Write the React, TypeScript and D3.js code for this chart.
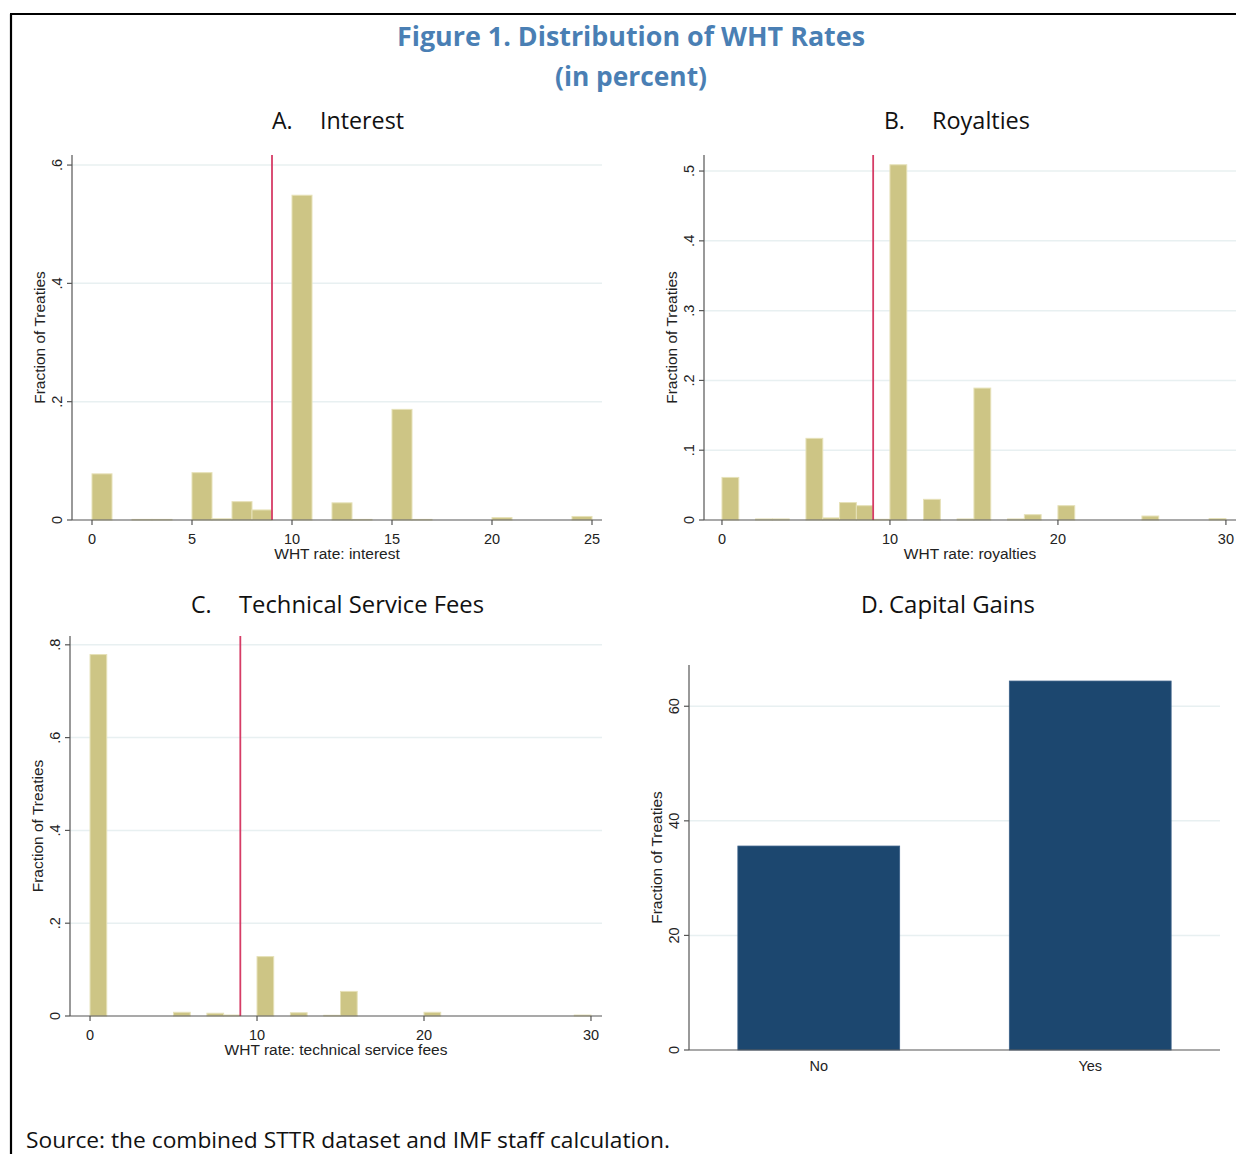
import React from "react";
import * as d3 from "d3";

// histogram bins (left edge of each 1-point bin) and fraction of treaties
const interestBins = [0, 2, 3, 5, 6, 7, 8, 10, 12, 13, 15, 16, 20, 24];
const interestFrac = [0.078, 0.001, 0.001, 0.08, 0.002, 0.031, 0.017, 0.549, 0.029, 0.001, 0.187, 0.001, 0.004, 0.006];

const royaltyBins = [0, 2, 3, 5, 6, 7, 8, 9, 10, 12, 14, 15, 17, 18, 20, 25, 29];
const royaltyFrac = [0.061, 0.0015, 0.0015, 0.117, 0.003, 0.025, 0.0205, 0.001, 0.509, 0.0296, 0.0015, 0.189, 0.0015, 0.0076, 0.0205, 0.0057, 0.002];

const techBins = [0, 5, 7, 8, 10, 12, 14, 15, 20, 29];
const techFrac = [0.779, 0.008, 0.006, 0.002, 0.128, 0.007, 0.0015, 0.053, 0.008, 0.002];

const gainsCategories = ["No", "Yes"];
const gainsValues = [35.6, 64.4];

const interestXTicks = [0, 5, 10, 15, 20, 25];
const wideXTicks = [0, 10, 20, 30];
const interestYTicks = [0, 0.2, 0.4, 0.6];
const royaltyYTicks = [0, 0.1, 0.2, 0.3, 0.4, 0.5];
const techYTicks = [0, 0.2, 0.4, 0.6, 0.8];
const gainsYTicks = [0, 20, 40, 60];

const threshold = 9;

const axisFont = "'Liberation Sans', Arial, sans-serif";
const uiFont = "'Open Sans', 'Noto Sans', sans-serif";
const gridColor = "#e8f0f1";
const axisColor = "#555";
const barFill = "#cdc585";
const barEdge = "#e6e1b8";

const fmt = (v: number) => (v === 0 ? "0" : String(v).replace(/^0/, ""));

function YAxis({ y, ticks, x0, x1, title, format }: any) {
  const [r0, r1] = y.range();
  return (
    <g>
      {ticks.filter((t: number) => t !== 0).map((t: number) => (
        <line key={"g" + t} x1={x0} x2={x1} y1={y(t)} y2={y(t)} stroke={gridColor} strokeWidth={1.5} />
      ))}
      <line x1={x0} x2={x0} y1={r1} y2={r0} stroke={axisColor} strokeWidth={1.2} />
      {ticks.map((t: number) => (
        <g key={t}>
          <line x1={x0 - 5} x2={x0} y1={y(t)} y2={y(t)} stroke={axisColor} strokeWidth={1.2} />
          <text transform={`translate(${x0 - 10},${y(t)}) rotate(-90)`} textAnchor="middle"
            fontFamily={axisFont} fontSize={14.5} fill="#222">{format(t)}</text>
        </g>
      ))}
      <text transform={`translate(${x0 - 27},${(r0 + r1) / 2}) rotate(-90)`} textAnchor="middle"
        fontFamily={axisFont} fontSize={15.5} fill="#222">{title}</text>
    </g>
  );
}

function Histogram({ bins, frac, xDomain, xRange, yMax, yRange, xTicks, yTicks, xTitle }: any) {
  const x = d3.scaleLinear().domain(xDomain).range(xRange);
  const y = d3.scaleLinear().domain([0, yMax]).range(yRange);
  const base = y(0);
  return (
    <g>
      <YAxis y={y} ticks={yTicks} x0={xRange[0]} x1={xRange[1]} title="Fraction of Treaties" format={fmt} />
      {bins.map((b: number, i: number) => (
        <rect key={b} x={x(b)} width={x(b + 1) - x(b)} y={y(frac[i])} height={base - y(frac[i])}
          fill={barFill} stroke={barEdge} strokeWidth={1} />
      ))}
      <line x1={x(threshold)} x2={x(threshold)} y1={yRange[1]} y2={base} stroke="#d63c66" strokeWidth={1.8} />
      <line x1={xRange[0]} x2={xRange[1]} y1={base} y2={base} stroke={axisColor} strokeWidth={1.2} />
      {xTicks.map((t: number) => (
        <g key={t}>
          <line x1={x(t)} x2={x(t)} y1={base} y2={base + 5} stroke={axisColor} strokeWidth={1.2} />
          <text x={x(t)} y={base + 24} textAnchor="middle" fontFamily={axisFont} fontSize={14.5} fill="#222">{t}</text>
        </g>
      ))}
      <text x={(xRange[0] + xRange[1]) / 2} y={base + 39} textAnchor="middle" fontFamily={axisFont}
        fontSize={15.5} fill="#222">{xTitle}</text>
    </g>
  );
}

function GainsChart() {
  const x = d3.scaleBand().domain(gainsCategories).range([689, 1220]).paddingInner(0.404).paddingOuter(0.18);
  const y = d3.scaleLinear().domain([0, 67.2]).range([1050, 665]);
  return (
    <g>
      <YAxis y={y} ticks={gainsYTicks} x0={689} x1={1220} title="Fraction of Treaties" format={(v: number) => String(v)} />
      {gainsCategories.map((c, i) => (
        <rect key={c} x={x(c)} width={x.bandwidth()} y={y(gainsValues[i])} height={y(0) - y(gainsValues[i])}
          fill="#1c476f" stroke="#3a6088" strokeWidth={0.8} />
      ))}
      <line x1={689} x2={1220} y1={y(0)} y2={y(0)} stroke={axisColor} strokeWidth={1.2} />
      {gainsCategories.map((c) => (
        <text key={c} x={(x(c) as number) + x.bandwidth() / 2} y={1071} textAnchor="middle"
          fontFamily={axisFont} fontSize={14.5} fill="#222">{c}</text>
      ))}
    </g>
  );
}

function PanelTitle({ label, text, x, textX, y, width }: any) {
  return (
    <g fontFamily={uiFont} fontSize={23} fill="#111">
      <text x={x} y={y}>{label}</text>
      <text x={textX} y={y} textLength={width} lengthAdjust="spacingAndGlyphs">{text}</text>
    </g>
  );
}

export default function App() {
  return (
    <svg width={1236} height={1154} style={{ position: "absolute", left: 0, top: 0, background: "#fff" }}>
      <path d="M10,14 H1236 M11,14 V1154" stroke="#000" strokeWidth={2.2} fill="none" />

      <text x={631} y={46} textAnchor="middle" fontFamily={uiFont} fontWeight={700} fontSize={26}
        fill="#4a7fb4" textLength={468} lengthAdjust="spacingAndGlyphs">Figure 1. Distribution of WHT Rates</text>
      <text x={631} y={86} textAnchor="middle" fontFamily={uiFont} fontWeight={700} fontSize={26}
        fill="#4a7fb4" textLength={152} lengthAdjust="spacingAndGlyphs">(in percent)</text>

      <PanelTitle label="A." text="Interest" x={272} textX={320} y={129} width={84} />
      <PanelTitle label="B." text="Royalties" x={884} textX={932} y={129} width={98} />
      <PanelTitle label="C." text="Technical Service Fees" x={191} textX={239} y={613} width={245} />
      <PanelTitle label="D." text="Capital Gains" x={861} textX={889} y={613} width={146} />

      <Histogram bins={interestBins} frac={interestFrac} xDomain={[-1, 25.5]} xRange={[72, 602]}
        yMax={0.617} yRange={[520, 155]} xTicks={interestXTicks} yTicks={interestYTicks} xTitle="WHT rate: interest" />
      <Histogram bins={royaltyBins} frac={royaltyFrac} xDomain={[-1.07, 30.6]} xRange={[704, 1236]}
        yMax={0.523} yRange={[520, 155]} xTicks={wideXTicks} yTicks={royaltyYTicks} xTitle="WHT rate: royalties" />
      <Histogram bins={techBins} frac={techFrac} xDomain={[-1.2, 30.66]} xRange={[70, 602]}
        yMax={0.819} yRange={[1016, 636]} xTicks={wideXTicks} yTicks={techYTicks} xTitle="WHT rate: technical service fees" />
      <GainsChart />

      <text x={26} y={1148} fontFamily={uiFont} fontSize={21.5} fill="#111" textLength={644}
        lengthAdjust="spacingAndGlyphs">Source: the combined STTR dataset and IMF staff calculation.</text>
    </svg>
  );
}
